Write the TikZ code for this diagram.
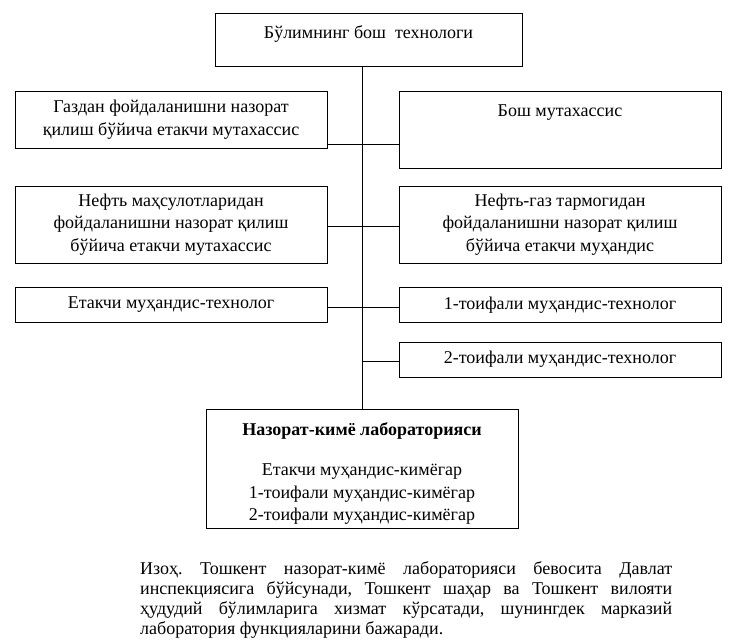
\documentclass[tikz,border=0pt]{standalone}
\usepackage{fontspec}
\setmainfont{Liberation Serif}
\usetikzlibrary{positioning,calc}

\tikzset{
  box/.style={draw, line width=0.8pt, inner sep=0pt, align=center,
    font=\fontsize{18}{22.5}\selectfont},
  link/.style={line width=0.8pt}
}

\begin{document}
\frenchspacing
\begin{tikzpicture}[x=1pt,y=-1pt]
  % canvas
  \useasboundingbox (0,0) rectangle (732,644);

  % widths of the columns
  \def\wleft{312pt}
  \def\wright{322pt}

  % head of the department
  \node[box, minimum width=307pt, minimum height=53pt,
        text height=14pt, text depth=15pt] (head) at (368.5,39.5)
        {Бўлимнинг бош\ \ технологи};

  % left column
  \node[box, minimum width=\wleft, minimum height=57pt] (gas) at (171,119.5)
        {Газдан фойдаланишни назорат\\ қилиш бўйича етакчи мутахассис};
  \node[box, minimum width=\wleft, minimum height=77pt] (oil) at (171,224.5)
        {Нефть маҳсулотларидан\\ фойдаланишни назорат қилиш\\ бўйича етакчи мутахассис};
  \node[box, minimum width=\wleft, minimum height=35pt] (lead) at (171,305)
        {Етакчи муҳандис-технолог};

  % right column
  \node[box, minimum width=\wright, minimum height=77pt,
        text height=14pt, text depth=39pt] (chief) at (560,129.5)
        {Бош мутахассис};
  \node[box, minimum width=\wright, minimum height=77pt] (branch) at (560,224.5)
        {Нефть-газ тармогидан\\ фойдаланишни назорат қилиш\\ бўйича етакчи муҳандис};
  \node[box, minimum width=\wright, minimum height=35pt] (cat1) at (560,305)
        {1-тоифали муҳандис-технолог};
  \node[box, minimum width=\wright, minimum height=35pt] (cat2) at (560,359.5)
        {2-тоифали муҳандис-технолог};

  % laboratory
  \node[box, minimum width=312pt, minimum height=119pt] (lab) at (362,468.5)
        {\rule{0pt}{23pt}\textbf{Назорат-кимё лабораторияси}\\[18pt]
         Етакчи муҳандис-кимёгар\\ 1-тоифали муҳандис-кимёгар\\ 2-тоифали муҳандис-кимёгар};

  % trunk and branches
  \draw[link] (head.south -| lab.north) -- (lab.north);
  \draw[link] ([yshift=4pt]gas.south east) -- ([yshift=4pt]gas.south east -| chief.west);
  \draw[link] ([yshift=-2pt]oil.east) -- ([yshift=-2pt]oil.east -| branch.west);
  \draw[link] ([yshift=-2pt]lead.east) -- ([yshift=-2pt]lead.east -| cat1.west);
  \draw[link] ([yshift=-2pt]cat2.west -| lab.north) -- ([yshift=-2pt]cat2.west);

  % note
  \node[anchor=north west, inner sep=0pt, text width=532pt, align=justify,
        font=\fontsize{18}{20}\selectfont] (note) at (140,561)
        {Изоҳ. Тошкент назорат-кимё лабораторияси бевосита Давлат\linebreak
         инспекциясига бўйсунади, Тошкент шаҳар ва Тошкент вилояти\linebreak
         ҳудудий бўлимларига хизмат кўрсатади, шунингдек марказий\linebreak
         лаборатория функцияларини бажаради.};
\end{tikzpicture}
\end{document}
